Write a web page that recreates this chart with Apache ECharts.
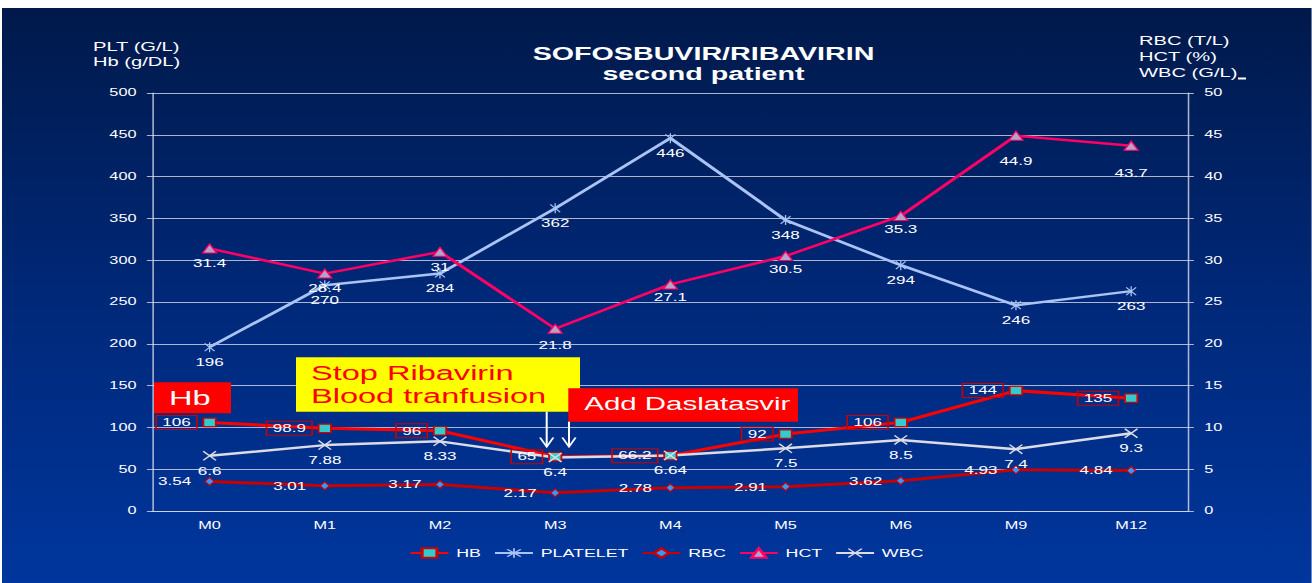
<html>

<head>
    <meta charset="utf-8">
    <script src="https://cdn.jsdelivr.net/npm/echarts@6.0.0/dist/echarts.min.js"></script>
    <style>
        body { margin: 0; background: #fff; overflow: hidden; }
        /* the slide is stretched sideways, so draw narrow and stretch the whole chart */
        #main { position: absolute; left: 2px; top: 8px; height: 575px; transform-origin: 0 0; }
    </style>
</head>

<body>
    <div id="main"></div>
    <script>
        // data
        const months = ['M0', 'M1', 'M2', 'M3', 'M4', 'M5', 'M6', 'M9', 'M12'];
        const hb = [106, 98.9, 96, 65, 66.2, 92, 106, 144, 135];
        const platelet = [196, 270, 284, 362, 446, 348, 294, 246, 263];
        const rbc = [3.54, 3.01, 3.17, 2.17, 2.78, 2.91, 3.62, 4.93, 4.84];
        const hct = [31.4, 28.4, 31, 21.8, 27.1, 30.5, 35.3, 44.9, 43.7];
        const wbc = [6.6, 7.88, 8.33, 6.4, 6.64, 7.5, 8.5, 7.4, 9.3];

        // HCT label shifts below the points (px), the slide places them by hand
        const hctLabelDy = [15, 14.5, 15, 16, 13, 13, 13, 26, 27];

        const S = 1.55;              // horizontal stretch of the slide
        const W = 1310, H = 575;
        const dom = document.getElementById('main');
        dom.style.width = (W / S) + 'px';
        dom.style.transform = 'scaleX(' + S + ')';

        // page pixel -> chart units
        function px(x) { return (x - 2) / S; }
        function py(y) { return y - 8; }

        const font = '"Liberation Sans", Arial, sans-serif';
        const gridColor = 'rgba(215,218,235,0.8)';
        const asterisk = 'path://M9,0L11,0L11,20L9,20Z M1.5,3L3,1.5L18.5,17L17,18.5Z M17,1.5L18.5,3L3,18.5L1.5,17Z';
        const cross = 'path://M1.5,3L3,1.5L18.5,17L17,18.5Z M17,1.5L18.5,3L3,18.5L1.5,17Z';

        var myChart = echarts.init(dom, null, { renderer: 'svg' });

        var baseLabel = { show: true, color: '#fff', fontSize: 11, fontFamily: font };

        function shifted(values, dy) {
            return values.map((v, i) => ({ value: v, label: { offset: [0, dy[i]] } }));
        }

        var option = {
            animation: false,
            backgroundColor: new echarts.graphic.LinearGradient(0, 0, 0, 1, [
                { offset: 0, color: '#00194a' },
                { offset: 0.5, color: '#002878' },
                { offset: 1, color: '#00369d' }
            ]),
            textStyle: { fontFamily: font },
            grid: {
                left: px(152), right: (W - 1187) / S, top: py(93), bottom: 72,
                outerBoundsMode: 'none'
            },
            legend: {
                left: px(409), top: 539, padding: 0,
                itemWidth: 24.5, itemHeight: 12, itemGap: 8,
                textStyle: { color: '#fff', fontSize: 11.5, fontFamily: font },
                data: ['HB', 'PLATELET', 'RBC', 'HCT', 'WBC']
            },
            xAxis: {
                type: 'category',
                data: months,
                boundaryGap: true,
                axisLine: { show: true, lineStyle: { color: gridColor, width: 1 } },
                axisTick: { show: false },
                axisLabel: { color: '#fff', fontSize: 10.5, margin: 9 },
                splitLine: { show: false }
            },
            yAxis: [
                {
                    type: 'value', min: 0, max: 500, interval: 50, position: 'left',
                    axisLine: { show: true, lineStyle: { color: gridColor, width: 1 } },
                    axisTick: { show: true, length: 3.3, lineStyle: { color: gridColor } },
                    axisLabel: { color: '#fff', fontSize: 10.5, margin: 10 },
                    splitLine: { show: true, lineStyle: { color: gridColor, width: 1 } }
                },
                {
                    type: 'value', min: 0, max: 50, interval: 5, position: 'right',
                    axisLine: { show: true, lineStyle: { color: gridColor, width: 1 } },
                    axisTick: { show: true, length: 3.3, lineStyle: { color: gridColor } },
                    axisLabel: { color: '#fff', fontSize: 10.5, margin: 10 },
                    splitLine: { show: false }
                }
            ],
            series: [
                {
                    name: 'HB', type: 'line', yAxisIndex: 0, data: hb,
                    symbol: 'rect', symbolSize: [8, 8.5],
                    lineStyle: { color: '#ff0000', width: 3 },
                    itemStyle: { color: '#33cccc', borderColor: '#d00000', borderWidth: 1.2 },
                    label: Object.assign({}, baseLabel, {
                        position: 'left', distance: 3.6,
                        borderColor: '#cc0000', borderWidth: 1, padding: [2, 4, 1, 4]
                    })
                },
                {
                    name: 'PLATELET', type: 'line', yAxisIndex: 0, data: platelet,
                    symbol: asterisk, symbolSize: [7, 10],
                    lineStyle: { color: '#a9c3f5', width: 2.5 },
                    itemStyle: { color: '#a9c3f5', borderWidth: 0 },
                    label: Object.assign({}, baseLabel, { position: 'inside', offset: [0, 15] })
                },
                {
                    name: 'RBC', type: 'line', yAxisIndex: 1, data: rbc,
                    symbol: 'diamond', symbolSize: [6, 8],
                    lineStyle: { color: '#c80000', width: 3 },
                    itemStyle: { color: '#3399ff', borderColor: '#c80000', borderWidth: 1 },
                    label: Object.assign({}, baseLabel, { position: 'left', distance: 8.5 })
                },
                {
                    name: 'HCT', type: 'line', yAxisIndex: 1, data: shifted(hct, hctLabelDy),
                    symbol: 'triangle', symbolSize: [9, 9],
                    lineStyle: { color: '#ff0066', width: 2.5 },
                    itemStyle: { color: '#b6a2c8', borderColor: '#ff0066', borderWidth: 1 },
                    label: Object.assign({}, baseLabel, { position: 'inside' })
                },
                {
                    name: 'WBC', type: 'line', yAxisIndex: 1, data: wbc,
                    symbol: cross, symbolSize: [9, 10],
                    lineStyle: { color: '#dcdce4', width: 2.5 },
                    itemStyle: { color: '#dcdce4', borderWidth: 0 },
                    label: Object.assign({}, baseLabel, { position: 'inside', offset: [0, 15] })
                }
            ],
            graphic: [
                // title, two lines
                {
                    type: 'text', z: 100, x: px(703.5), y: py(63),
                    style: { text: 'SOFOSBUVIR/RIBAVIRIN\nsecond patient', fill: '#fff', fontSize: 18.5, lineHeight: 20, fontWeight: 'bold', fontFamily: font, align: 'center', verticalAlign: 'middle' }
                },
                // axis names
                {
                    type: 'text', z: 100, x: px(93), y: py(39.5),
                    style: { text: 'PLT (G/L)\nHb (g/DL)', fill: '#fff', fontSize: 13, lineHeight: 15, fontFamily: font, align: 'left', verticalAlign: 'top' }
                },
                {
                    type: 'text', z: 100, x: px(1139), y: py(33),
                    style: { text: 'RBC (T/L)\nHCT (%)\nWBC (G/L)', fill: '#fff', fontSize: 13, lineHeight: 16, fontFamily: font, align: 'left', verticalAlign: 'top' }
                },
                {
                    type: 'rect', z: 100, shape: { x: px(1238), y: py(77.5), width: 8 / S, height: 2 },
                    style: { fill: '#fff' }
                },
                // notes on the slide
                {
                    type: 'rect', z: 100, shape: { x: px(154), y: py(382.3), width: 77 / S, height: 31 },
                    style: { fill: '#ff0000' }
                },
                {
                    type: 'text', z: 101, x: px(169), y: py(397.5),
                    style: { text: 'Hb', fill: '#fff', fontSize: 21, fontFamily: font, align: 'left', verticalAlign: 'middle' }
                },
                {
                    type: 'rect', z: 100, shape: { x: px(296), y: py(357.3), width: 284 / S, height: 54.4 },
                    style: { fill: '#ffff00' }
                },
                {
                    type: 'text', z: 101, x: px(311), y: py(373.2) - 11.3,
                    style: { text: 'Stop Ribavirin\nBlood tranfusion', fill: '#ff0000', fontSize: 21, lineHeight: 22.6, fontFamily: font, align: 'left', verticalAlign: 'top' }
                },
                {
                    type: 'rect', z: 100, shape: { x: px(568.3), y: py(388.3), width: (798 - 568.3) / S, height: 33.4 },
                    style: { fill: '#ff0000' }
                },
                {
                    type: 'text', z: 101, x: px(584.3), y: py(403.5),
                    style: { text: 'Add Daslatasvir', fill: '#fff', fontSize: 19, fontFamily: font, align: 'left', verticalAlign: 'middle' }
                },
                // arrows
                {
                    type: 'polyline', z: 100, shape: { points: [[px(546.7), py(411.7)], [px(546.7), py(446.7)]] },
                    style: { stroke: '#fff', lineWidth: 1.3, fill: null }
                },
                {
                    type: 'polyline', z: 100, shape: { points: [[px(546.7) - 4.3, py(437.5)], [px(546.7), py(446.7)], [px(546.7) + 4.3, py(437.5)]] },
                    style: { stroke: '#fff', lineWidth: 1.3, fill: null }
                },
                {
                    type: 'polyline', z: 100, shape: { points: [[px(569), py(421.7)], [px(569), py(446.7)]] },
                    style: { stroke: '#fff', lineWidth: 1.3, fill: null }
                },
                {
                    type: 'polyline', z: 100, shape: { points: [[px(569) - 4.3, py(437.5)], [px(569), py(446.7)], [px(569) + 4.3, py(437.5)]] },
                    style: { stroke: '#fff', lineWidth: 1.3, fill: null }
                }
            ]
        };

        myChart.setOption(option);
    </script>
</body>

</html>
